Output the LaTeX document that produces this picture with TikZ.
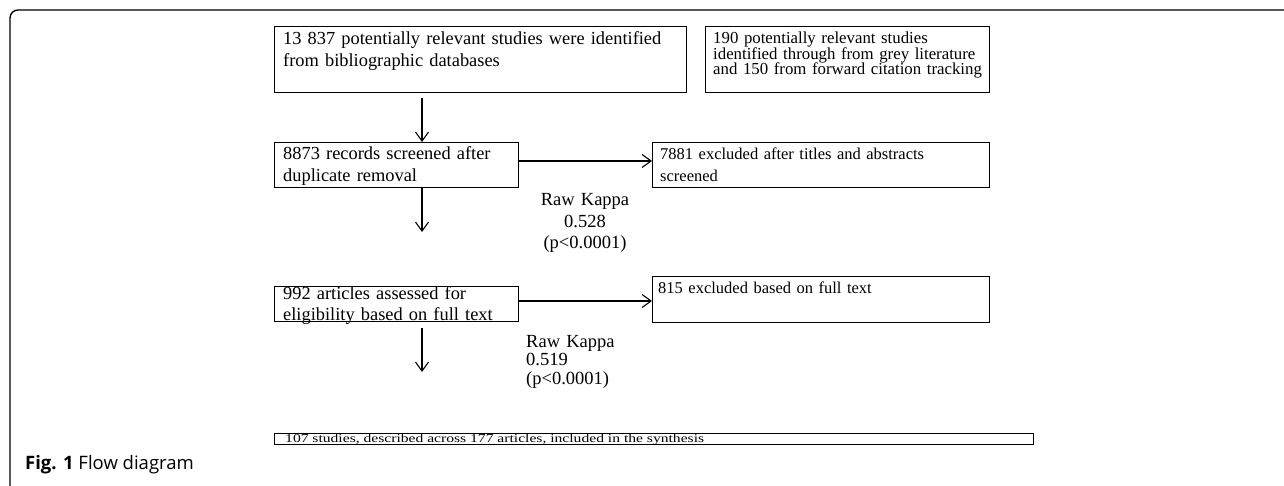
\documentclass[tikz,border=0pt]{standalone}
\usepackage{fontspec}
\setmainfont{Liberation Serif}
\newfontfamily\capfont{Open Sans}
\newfontfamily\widefont[FakeStretch=1.3]{Liberation Serif}
\usetikzlibrary{arrows.meta}
\begin{document}
\begin{tikzpicture}[x=1pt,y=-1pt,
  box/.style={draw, line width=1.1pt, rectangle, inner sep=0pt, anchor=north west},
  arr/.style={-{Straight Barb[length=9pt,width=13pt,line width=1.1pt]}, line width=1.1pt},
  txt/.style={inner sep=0pt, anchor=base west, align=left, text width=#1},
  big/.style={font=\fontsize{18.4}{21.6}\selectfont},
  mid/.style={font=\fontsize{16.8}{15.5}\selectfont},
  mid2/.style={font=\fontsize{16.5}{21.6}\selectfont}]
\useasboundingbox (0,0) rectangle (1284,486);
% frame
\draw[line width=1.4pt, rounded corners=8pt, line cap=round] (10,486) -- (10,10) -- (1284,10);
% boxes
\node[box, minimum width=412pt, minimum height=66pt] (a) at (274,26) {};
\node[box, minimum width=284pt, minimum height=66pt] (b) at (705,26) {};
\node[box, minimum width=244pt, minimum height=45pt] (c) at (274,142) {};
\node[box, minimum width=337pt, minimum height=45pt] (d) at (652,142) {};
\node[box, minimum width=244pt, minimum height=35pt] (e) at (274,286) {};
\node[box, minimum width=337pt, minimum height=46pt] (f) at (652,276) {};
\node[box, minimum width=759pt, minimum height=11pt] (g) at (274,433) {};
% texts
\node[txt=400pt, big] (ta) at (283,45) {13 837 potentially relevant studies were identified\\from bibliographic databases};
\node[txt=275pt, mid] (tb) at (713,44) {190 potentially relevant studies\\identified through from grey literature\\and 150 from forward citation tracking};
\node[txt=235pt, big] (tc) at (283,160) {8873 records screened after\\duplicate removal};
\node[txt=325pt, mid2] (td) at (660,160) {7881 excluded after titles and abstracts\\screened};
\node[txt=235pt, big] (te) at (283,299) {992 articles assessed for\\eligibility based on full text};
\node[txt=325pt, mid2] (tf) at (658,293) {815 excluded based on full text};
\node[inner sep=0pt, anchor=base, align=center, text width=120pt, font=\fontsize{18.5}{21.5}\selectfont] (k1) at (585,206) {Raw Kappa\\0.528\\(p<0.0001)};
\node[txt=120pt, font=\fontsize{18.5}{18.5}\selectfont] (k2) at (526,347) {Raw Kappa\\0.519\\(p<0.0001)};
\node[inner sep=0pt, anchor=base west, font=\widefont\fontsize{12}{13}\selectfont] (tg) at (285,442) {107 studies, described across 177 articles, included in the synthesis};
% caption
\node[inner sep=0pt, anchor=base west, font=\capfont\fontsize{18.5}{20}\selectfont] (cap) at (25,469) {\textbf{Fig. 1} Flow diagram};
% arrows
\coordinate (a1) at ([xshift=148pt,yshift=-5pt]a.south west);
\draw[arr] (a1) -- (a1 |- c.north);
\draw[arr] (c.east |- 0,161) -- (d.west |- 0,161);
\coordinate (c1) at ([xshift=148pt]c.south west);
\coordinate (c2) at (422,232);
\draw[arr] (c1) -- (c2);
\draw[arr] (e.east |- 0,301) -- (f.west |- 0,301);
\coordinate (e1) at ([xshift=148pt,yshift=-6pt]e.south west);
\coordinate (e2) at (422,372);
\draw[arr] (e1) -- (e2);
\end{tikzpicture}
\end{document}
